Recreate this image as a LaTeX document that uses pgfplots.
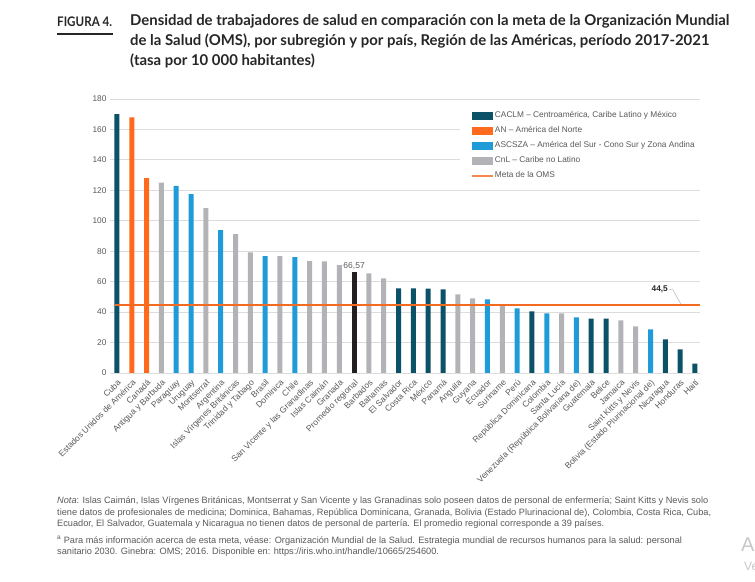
\documentclass[border=0pt]{standalone}
\usepackage{pgfplots}
\pgfplotsset{compat=1.18}
\usepackage{fontspec}
\setmainfont{Liberation Sans}
\newfontfamily\titlefont{Lato}
\newfontfamily\figfont[FakeStretch=0.88]{Lato}

\definecolor{caclm}{HTML}{0B5268}
\definecolor{an}{HTML}{FF6A1F}
\definecolor{ascsza}{HTML}{1F9BD7}
\definecolor{cnl}{HTML}{B3B3B7}
\definecolor{prom}{HTML}{231F20}
\definecolor{metaline}{HTML}{F26B21}
\definecolor{labgray}{HTML}{595959}
\definecolor{gridgray}{HTML}{DCDCDC}
\definecolor{axisgray}{HTML}{BDBDBD}
\definecolor{titlecol}{HTML}{262626}

\begin{document}
\begin{tikzpicture}

% titulo
\node[anchor=base west, inner sep=0pt, text=titlecol,
  font=\figfont\bfseries\fontsize{13.2}{15}\selectfont] at (57pt,554pt) {FIGURA 4.};
\draw[titlecol, line width=1.2pt] (57pt,547pt) -- (113pt,547pt);
\node[anchor=north west, inner sep=0pt, text=titlecol, align=left,
  font=\titlefont\bfseries\fontsize{14.9}{20}\selectfont] at (130pt,567pt)
  {Densidad de trabajadores de salud en comparación con la meta de la Organización Mundial\\
   de la Salud (OMS), por subregión y por país, Región de las Américas, período 2017-2021\\
   (tasa por 10 000 habitantes)};

\begin{axis}[
  at={(110pt,208pt)}, anchor=south west,
  width=590pt, height=274pt, scale only axis,
  xmin=-0.47, xmax=39.34, ymin=0, ymax=180,
  ytick={0,20,...,180},
  xtick={0,...,39},
  xticklabels={Cuba, Estados Unidos de América, Canadá, Antigua y Barbuda, Paraguay, Uruguay, Montserrat, Argentina, Islas Vírgenes Británicas, Trinidad y Tabago, Brasil, Dominica, Chile, San Vicente y las Granadinas, Islas Caimán, Granada, Promedio regional, Barbados, Bahamas, El Salvador, Costa Rica, México, Panamá, Anguila, Guyana, Ecuador, Suriname, Perú, República Dominicana, Colombia, Santa Lucía, Venezuela (República Bolivariana de), Guatemala, Belice, Jamaica, Saint Kitts y Nevis, Bolivia (Estado Plurinacional de), Nicaragua, Honduras, Haití},
  x tick label style={rotate=45, anchor=north east, font=\fontsize{8.5}{9}\selectfont, text=labgray, inner sep=1pt},
  y tick label style={font=\fontsize{8.3}{9}\selectfont, text=labgray},
  /pgf/number format/assume math mode=true,
  ymajorgrids, major grid style={gridgray, line width=0.8pt},
  extra y ticks={0}, extra y tick labels={},
  extra y tick style={grid style={axisgray, line width=1pt}},
  axis line style={draw=none}, major tick style={draw=none},
  ybar, bar width=5pt,
  legend cell align=left,
  legend style={at={(0.593,0.988)}, anchor=north west, draw=none, fill=white,
    font=\fontsize{8.3}{9}\selectfont, text=labgray,
    inner xsep=11pt, inner ysep=8pt, row sep=4pt,
    nodes={inner sep=1.5pt, text height=6pt, text depth=2pt}},
]
\addplot[fill=caclm, draw=none, bar shift=0pt,
  legend image code/.code={\fill[caclm] (0pt,-4pt) rectangle (21pt,4pt);}]
  coordinates {(0,170) (19,55.6) (20,55.6) (21,55.5) (22,54.9) (28,40.5) (32,35.8) (33,35.8) (37,22.1) (38,15.5) (39,6.2)};
\addplot[fill=an, draw=none, bar shift=0pt,
  legend image code/.code={\fill[an] (0pt,-4pt) rectangle (21pt,4pt);}]
  coordinates {(1,168) (2,128)};
\addplot[fill=ascsza, draw=none, bar shift=0pt,
  legend image code/.code={\fill[ascsza] (0pt,-4pt) rectangle (21pt,4pt);}]
  coordinates {(4,123) (5,117.5) (7,93.8) (10,76.8) (12,76.1) (25,48.4) (27,42.4) (29,39.2) (31,36.5) (36,28.6)};
\addplot[fill=cnl, draw=none, bar shift=0pt,
  legend image code/.code={\fill[cnl] (0pt,-4pt) rectangle (21pt,4pt);}]
  coordinates {(3,125) (6,108.3) (8,91.2) (9,79.3) (11,76.7) (13,73.5) (14,73.4) (15,70.8) (17,65.5) (18,62.2) (23,51.6) (24,49) (26,44.4) (30,39.1) (34,34.5) (35,30.6)};
\addplot[fill=prom, draw=none, bar shift=0pt, forget plot]
  coordinates {(16,66.57)};
\addplot[sharp plot, draw=metaline, line width=1.6pt, no marks,
  legend image code/.code={\draw[draw=metaline!80, line width=1.4pt] (0pt,0pt) -- (21pt,0pt);}]
  coordinates {(-0.15,44.5) (39.34,44.5)};
\legend{{CACLM – Centroamérica, Caribe Latino y México}, AN – América del Norte, ASCSZA – América del Sur - Cono Sur y Zona Andina, CnL – Caribe no Latino, Meta de la OMS}

\node[anchor=south, font=\fontsize{8.5}{9}\selectfont, text=labgray, inner sep=2pt] at (axis cs:16,66.57) {66,57};
\draw[axisgray, line width=0.6pt] (axis cs:37.25,54.8) -- (axis cs:37.5,54.8) -- (axis cs:38.05,45.2);
\node[anchor=east, font=\bfseries\fontsize{8.3}{9}\selectfont, text=titlecol, inner sep=1pt] at (axis cs:37.25,54.8) {44,5};
\end{axis}

% notas
\node[anchor=north west, inner sep=0pt, text=labgray, align=left,
  font=\fontsize{9.2}{11.5}\selectfont] at (57pt,84pt)
  {\textit{Nota}: Islas Caimán, Islas Vírgenes Británicas, Montserrat y San Vicente y las Granadinas solo poseen datos de personal de enfermería; Saint Kitts y Nevis solo\\
   tiene datos de profesionales de medicina; Dominica, Bahamas, República Dominicana, Granada, Bolivia (Estado Plurinacional de), Colombia, Costa Rica, Cuba,\\
   Ecuador, El Salvador, Guatemala y Nicaragua no tienen datos de personal de partería. El promedio regional corresponde a 39 países.\\[5pt]
   \textsuperscript{a} Para más información acerca de esta meta, véase: Organización Mundial de la Salud. Estrategia mundial de recursos humanos para la salud: personal\\
   sanitario 2030. Ginebra: OMS; 2016. Disponible en: https://iris.who.int/handle/10665/254600.};

% marca de agua recortada
\node[anchor=base west, inner sep=0pt, text=black!22] at (741pt,30pt) {\fontsize{20}{20}\selectfont A};
\node[anchor=base west, inner sep=0pt, text=black!22] at (744pt,11pt) {\fontsize{12}{12}\selectfont Ve};

\pgfresetboundingbox
\path[use as bounding box] (0pt,0pt) rectangle (755pt,581pt);
\end{tikzpicture}
\end{document}
